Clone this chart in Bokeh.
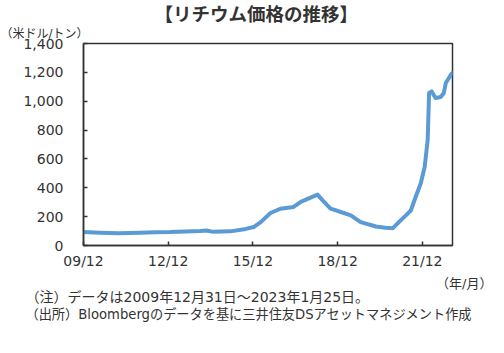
import pandas as pd
from bokeh.plotting import figure
from bokeh.models import (Range1d, FixedTicker, DatetimeTickFormatter, Title,
                          NumeralTickFormatter, ColumnDataSource)
from bokeh.embed import file_html
from bokeh.resources import INLINE

# ---- data ----
dates = ["2009-12-31", "2010-08-01", "2011-04-01", "2012-01-01", "2012-07-15",
         "2013-01-20", "2013-08-10", "2014-02-20", "2014-05-10", "2014-07-25",
         "2015-03-15", "2015-10-01", "2016-01-10", "2016-04-10", "2016-08-15",
         "2016-12-20", "2017-06-10", "2017-09-10", "2018-01-15", "2018-04-15",
         "2018-06-20", "2018-10-01", "2019-02-10", "2019-06-20", "2019-10-25",
         "2020-05-10", "2020-09-10", "2020-12-15", "2021-03-25", "2021-06-01",
         "2021-08-05", "2021-10-05", "2021-12-10", "2022-01-30", "2022-03-10",
         "2022-03-28", "2022-05-01", "2022-06-20", "2022-08-25", "2022-10-05",
         "2022-10-30", "2023-01-05", "2023-01-25"]
price = [93, 88, 85, 88, 92,
         93, 97, 100, 104, 96,
         98, 115, 128, 162, 225,
         255, 267, 302, 332, 353,
         313, 255, 232, 209, 162,
         132, 123, 120, 174, 209,
         244, 336, 430, 545, 731,
         1057, 1068, 1022, 1029, 1057,
         1126, 1184, 1196]
x_ticks = ["2009-12-31", "2012-12-31", "2015-12-31", "2018-12-31", "2021-12-31"]
y_ticks = [0, 200, 400, 600, 800, 1000, 1200, 1400]

title_text = "【リチウム価格の推移】"
unit_text = "（米ドル/トン）"
xunit_text = "（年/月）"
note1 = "（注）データは2009年12月31日～2023年1月25日。"
note2 = "（出所）Bloombergのデータを基に三井住友DSアセットマネジメント作成"

CJK = "Noto Sans CJK JP"
MIX = "'DejaVu Sans', 'Noto Sans CJK JP'"
TXT = "#333333"

src = ColumnDataSource(dict(x=pd.to_datetime(dates), y=price))

p = figure(width=504, height=353, x_axis_type="datetime", title=None,
           output_backend="svg", toolbar_location=None,
           min_border_left=83, min_border_right=52,
           min_border_top=0, min_border_bottom=108)
p.x_range = Range1d(pd.Timestamp("2009-12-31"), pd.Timestamp("2023-01-25"))
p.y_range = Range1d(0, 1400)

p.line("x", "y", source=src, line_color="#5B9BD5", line_width=4,
       line_join="round", line_cap="round")

p.grid.visible = False
p.outline_line_color = "#333333"
p.outline_line_width = 1.5
p.background_fill_color = "white"
p.border_fill_color = "white"

xa = p.xaxis[0]
xa.ticker = FixedTicker(ticks=[pd.Timestamp(t).value / 1e6 for t in x_ticks])
fmt = "%y/%m"
xa.formatter = DatetimeTickFormatter(milliseconds=fmt, seconds=fmt, minsec=fmt,
                                     minutes=fmt, hourmin=fmt, hours=fmt,
                                     days=fmt, months=fmt, years=fmt)
ya = p.yaxis[0]
ya.ticker = FixedTicker(ticks=y_ticks)
ya.formatter = NumeralTickFormatter(format="0,0")

for ax in (xa, ya):
    ax.axis_line_color = "#333333"
    ax.axis_line_width = 1.5
    ax.major_tick_in = 4
    ax.major_tick_out = 0
    ax.major_tick_line_color = "#333333"
    ax.major_tick_line_width = 1.5
    ax.minor_tick_line_color = None
    ax.major_label_text_font = "DejaVu Sans"
    ax.major_label_text_font_size = "14px"
    ax.major_label_text_color = TXT
xa.major_label_standoff = 7
ya.major_label_standoff = 20

def add_title(text, side, size, align="left", offset=0, bold=False,
              standoff=0, font=MIX):
    t = Title(text=text, align=align, offset=offset, standoff=standoff,
              text_font=font, text_font_size=size, text_color=TXT,
              text_font_style="bold" if bold else "normal",
              text_line_height=1.0)
    p.add_layout(t, side)

# above: first added is closest to the frame
add_title(unit_text, "above", "12px", align="left", offset=-83, standoff=5)
add_title(title_text, "above", "18.5px", align="left", offset=71, bold=True,
          standoff=-6, font=CJK)
# below: after the x axis
add_title(xunit_text, "below", "13px", align="right", offset=-40, standoff=4)
add_title(note1, "below", "14px", align="left", offset=-58, standoff=-12)
add_title(note2, "below", "13.2px", align="left", offset=-58, standoff=12)

open("out.html", "w").write(file_html(p, INLINE))
